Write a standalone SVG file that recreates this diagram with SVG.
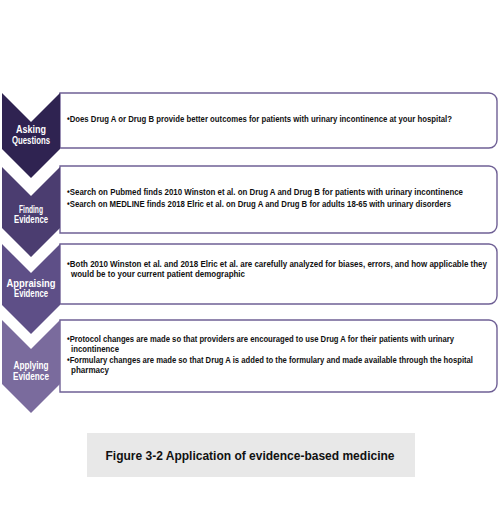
<svg xmlns="http://www.w3.org/2000/svg" width="499" height="512" viewBox="0 0 499 512">
<style>
.box{fill:#ffffff;stroke:#6f6095;stroke-width:1.4}
.lbl{font-family:"Liberation Sans Narrow","Liberation Sans",Arial,sans-serif;font-weight:bold;font-size:10px;fill:#ffffff;text-anchor:middle}
.txt{font-family:"Liberation Sans Narrow","Liberation Sans",Arial,sans-serif;font-weight:bold;font-size:9.5px;fill:#111111}
.cap{font-family:"Liberation Sans",Arial,sans-serif;font-weight:bold;font-size:12px;fill:#111111;text-anchor:middle}
</style>
<rect width="499" height="512" fill="#ffffff"/>
<g id="step1">
<path class="box" d="M60,93 H489 A8,8 0 0 1 497,101 V140 A8,8 0 0 1 489,148 H60 Z"/>
<polygon fill="#2f2351" points="2,93 31,122 60,93 60,149 31,178 2,149"/>
<text class="lbl" x="31" y="133" textLength="30" lengthAdjust="spacingAndGlyphs">Asking</text>
<text class="lbl" x="31" y="144" textLength="38" lengthAdjust="spacingAndGlyphs">Questions</text>
<text class="txt" transform="translate(67,122) scale(0.72,1)" textLength="534.7" lengthAdjust="spacingAndGlyphs">•Does Drug A or Drug B provide better outcomes for patients with urinary incontinence at your hospital?</text>
</g>
<g id="step2">
<path class="box" d="M60,166 H489 A8,8 0 0 1 497,174 V225 A8,8 0 0 1 489,233 H60 Z"/>
<polygon fill="#4b3d70" points="2,167 31,196 60,167 60,228 31,257 2,228"/>
<text class="lbl" x="31" y="213" textLength="24" lengthAdjust="spacingAndGlyphs">Finding</text>
<text class="lbl" x="31" y="223" textLength="34" lengthAdjust="spacingAndGlyphs">Evidence</text>
<text class="txt" transform="translate(67,195) scale(0.72,1)" textLength="550" lengthAdjust="spacingAndGlyphs">•Search on Pubmed finds 2010 Winston et al. on Drug A and Drug B for patients with urinary incontinence</text>
<text class="txt" transform="translate(67,207) scale(0.72,1)" textLength="533.3" lengthAdjust="spacingAndGlyphs">•Search on MEDLINE finds 2018 Elric et al. on Drug A and Drug B for adults 18-65 with urinary disorders</text>
</g>
<g id="step3">
<path class="box" d="M60,244 H489 A8,8 0 0 1 497,252 V296 A8,8 0 0 1 489,304 H60 Z"/>
<polygon fill="#5e4f87" points="2,244 31,273 60,244 60,305 31,334 2,305"/>
<text class="lbl" x="31" y="287" textLength="49" lengthAdjust="spacingAndGlyphs">Appraising</text>
<text class="lbl" x="31" y="297" textLength="34" lengthAdjust="spacingAndGlyphs">Evidence</text>
<text class="txt" transform="translate(67,267) scale(0.72,1)" textLength="583.3" lengthAdjust="spacingAndGlyphs">•Both 2010 Winston et al. and 2018 Elric et al. are carefully analyzed for biases, errors, and how applicable they</text>
<text class="txt" transform="translate(71,277) scale(0.72,1)" textLength="241.7" lengthAdjust="spacingAndGlyphs">would be to your current patient demographic</text>
</g>
<g id="step4">
<path class="box" d="M60,320 H489 A8,8 0 0 1 497,328 V384 A8,8 0 0 1 489,392 H60 Z"/>
<polygon fill="#7a6b9d" points="2,320 31,349 60,320 60,384 31,413 2,384"/>
<text class="lbl" x="31" y="369" textLength="35" lengthAdjust="spacingAndGlyphs">Applying</text>
<text class="lbl" x="31" y="380" textLength="36" lengthAdjust="spacingAndGlyphs">Evidence</text>
<text class="txt" transform="translate(67,342) scale(0.72,1)" textLength="537.5" lengthAdjust="spacingAndGlyphs">•Protocol changes are made so that providers are encouraged to use Drug A for their patients with urinary</text>
<text class="txt" transform="translate(71,352) scale(0.72,1)" textLength="66.7" lengthAdjust="spacingAndGlyphs">incontinence</text>
<text class="txt" transform="translate(67,363) scale(0.72,1)" textLength="563.9" lengthAdjust="spacingAndGlyphs">•Formulary changes are made so that Drug A is added to the formulary and made available through the hospital</text>
<text class="txt" transform="translate(71,373) scale(0.72,1)" textLength="52.8" lengthAdjust="spacingAndGlyphs">pharmacy</text>
</g>
<g id="connectors"></g>
<g id="caption">
<rect x="87" y="433" width="328" height="44" fill="#e8e8e8"/>
<text class="cap" x="250" y="460">Figure 3-2 Application of evidence-based medicine</text>
</g>
</svg>
